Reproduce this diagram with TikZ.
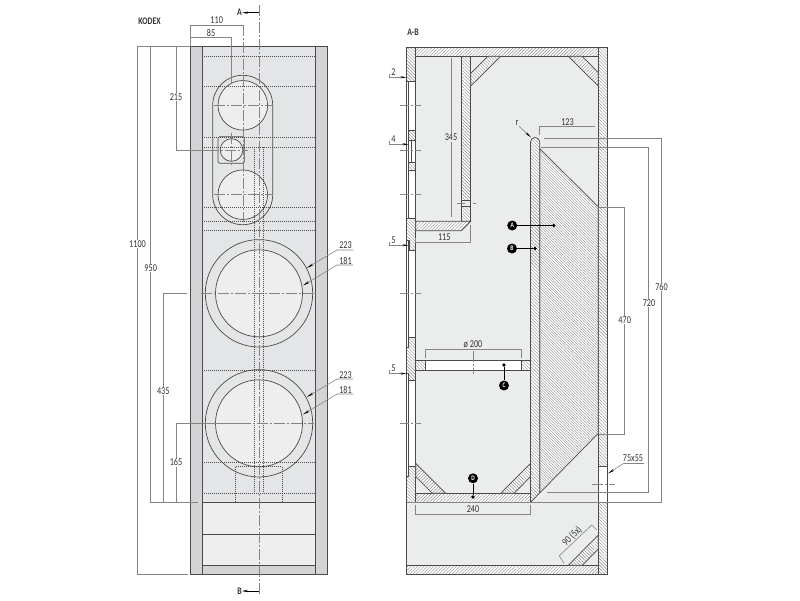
\documentclass[tikz,border=0pt]{standalone}
\usepackage{fontspec}
\setmainfont[FakeStretch=0.78]{Carlito}
\usetikzlibrary{patterns.meta, arrows.meta, calc}
\definecolor{ink}{HTML}{4A4A4A}
\definecolor{dimgray}{HTML}{858585}
\definecolor{hatchgray}{HTML}{858585}
\definecolor{strip}{HTML}{D3D4D6}
\definecolor{panel}{HTML}{E4E5E6}
\definecolor{cone}{HTML}{EEEEEF}
\definecolor{cavity}{HTML}{EBECEC}
\begin{document}
\begin{tikzpicture}[x=1pt, y=-1pt, font=\fontsize{10.5}{11}\selectfont, text=black!80,
    outline/.style={draw=ink, line width=0.7pt},
    dottedline/.style={draw=ink, line width=0.6pt, dash pattern=on 0.9pt off 1.1pt},
    centerline/.style={draw=dimgray, line width=0.5pt, dash pattern=on 11pt off 2pt on 2pt off 2pt},
    dimline/.style={draw=dimgray, line width=0.6pt},
    dimlabel/.style={fill=white, inner sep=0.8pt},
    plainlabel/.style={inner sep=0.5pt},
    titlelabel/.style={inner sep=0pt, font=\fontsize{10}{11}\selectfont\bfseries},
    leader/.style={dimline, -{Stealth[length=7pt, width=2.2pt, black]}},
    cutarrow/.style={draw=black, line width=0.5pt, -{Stealth[length=6pt, width=2.2pt]}},
    tagnode/.style={circle, fill=black, text=white, inner sep=0pt, minimum size=10pt, font=\fontsize{7}{7}\selectfont\bfseries},
    tagdot/.style={circle, fill=black, inner sep=0pt, minimum size=3.6pt},
    hatchup/.style={outline, preaction={fill=white}, pattern={Lines[angle=45, distance=2.3pt, line width=0.4pt]}, pattern color=hatchgray},
    hatchdown/.style={outline, preaction={fill=white}, pattern={Lines[angle=-45, distance=2.3pt, line width=0.4pt]}, pattern color=hatchgray},
    hatchfine/.style={outline, preaction={fill=white}, pattern={Lines[angle=-45, distance=1.9pt, line width=0.35pt]}, pattern color=hatchgray}]
  \useasboundingbox[fill=white] (0,0) rectangle (800,600);

  \fill[strip] (190.5,46.7) rectangle (327.5,574.3);
  \fill[panel] (202.3,46.7) rectangle (315.3,565.3);
  \fill[cone] (202.3,502) rectangle (315.3,565.3);
  \draw[outline, rounded corners=29.9pt] (212.7,75.3) rectangle (272.7,224.7);
  \foreach \cy in {105.3, 194.7}
    \draw[outline, fill=cone] (242.8,\cy) circle[radius=24.8pt];
  \draw[outline, rounded corners=1.5pt] (218,136.7) rectangle (244.3,163.3);
  \draw[outline, fill=cone] (231.5,150) circle[radius=11.3pt];
  \foreach \cy in {293.3, 423.3} {
    \draw[outline] (259,\cy) circle[radius=53.7pt];
    \draw[outline, fill=cone] (259,\cy) circle[radius=43.5pt];
  }
  \foreach \ly in {56, 86.3, 137.7, 147.3, 207.3, 221.3, 230.3, 370, 462.7, 493.3}
    \draw[dottedline] (202.3,\ly) -- (315.3,\ly);
  \foreach \lx in {254.7, 263.3}
    \draw[dottedline] (\lx,147.3) -- (\lx,493.3);
  \draw[dottedline] (235.7,502) |- (282,466.7) -- (282,502);
  \foreach \ly in {502, 534.7, 565.3}
    \draw[outline] (202.3,\ly) -- (315.3,\ly);
  \draw[outline] (190.5,46.7) rectangle (327.5,574.3);
  \draw[outline] (202.3,46.7) -- (202.3,574.3) (315.3,46.7) -- (315.3,574.3);

  \draw[centerline] (259,5) -- (259,596);
  \draw[centerline] (242.8,25) -- (242.8,222);
  \draw[centerline] (231.5,133) -- (231.5,167);
  \foreach \cy in {105.3, 194.7}
    \draw[centerline] (214,\cy) -- (272,\cy);
  \draw[centerline] (208,150) -- (248,150);
  \draw[centerline] (200.7,293.3) -- (314,293.3);
  \draw[centerline] (240,423.3) -- (314,423.3);

  \node[titlelabel] (kodex) at (149.5,21) {KODEX};
  \node[titlelabel] (cutA) at (239.5,12.7) {A};
  \node[titlelabel] (cutB) at (239.5,591) {B};
  \coordinate (axisA) at (259,12.7);
  \coordinate (axisB) at (259,591);
  \draw[cutarrow] (axisA) -- (cutA.east);
  \draw[cutarrow] (axisB) -- (cutB.east);

  \draw[dimline] (190,46.7) -| (137.3,574.3) -- (188,574.3);
  \draw[dimline] (150.7,46.7) |- (198,502);
  \draw[dimline] (187,293.3) -| (163.3,502);
  \draw[dimline] (176,502) |- (240,423.3);
  \draw[dimline] (176,46.7) |- (208,150);
  \draw[dimline] (190.7,46.7) |- (242.8,25);
  \draw[dimline] (190.7,46.7) |- (231.5,37.3) -- (231.5,84);
  \node[dimlabel] (h1100) at (137.5,244) {1100};
  \node[dimlabel] (h950) at (150.7,268) {950};
  \node[dimlabel] (h435) at (163.3,391) {435};
  \node[dimlabel] (h165) at (176,462.3) {165};
  \node[dimlabel] (h215) at (176,97) {215};
  \node[plainlabel] (w110) at (216.7,20.5) {110};
  \node[plainlabel] (w85) at (211,32.5) {85};

  \foreach \ty/\ny/\tag in {250/245.5/a, 379/374.7/b} {
    \coordinate (bendo\tag) at (337,\ty);
    \coordinate (endo\tag) at (353,\ty);
    \coordinate (tipo\tag) at (306.8,\ty+18);
    \draw[leader] (endo\tag) -- (bendo\tag) -- (tipo\tag);
    \node[plainlabel] (outer\tag) at (345.5,\ny) {223};
  }
  \foreach \ty/\ny/\tag in {265/260.7/a, 394/389.7/b} {
    \coordinate (bendi\tag) at (337,\ty);
    \coordinate (endi\tag) at (353,\ty);
    \coordinate (tipi\tag) at (303,\ty+20.5);
    \draw[leader] (endi\tag) -- (bendi\tag) -- (tipi\tag);
    \node[plainlabel] (inner\tag) at (345.5,\ny) {181};
  }

  \fill[cavity] (415.7,56.3) rectangle (598.3,502.3);
  \fill[cavity] (406.5,502.3) rectangle (598.3,565.3);
  \draw[outline] (406.5,502.3) -- (406.5,574.3);
  \draw[outline] (406.5,81) -- (406.5,476.7) (408.8,81) -- (408.8,218.3) (408.8,240) -- (408.8,476.7);
  \draw[outline] (415.7,47.3) -- (415.7,502.3);
  \draw[outline] (411,140) -- (411,162.3);
  \draw[outline] (598.3,466.7) -- (598.3,502.3) (607.7,466.7) -- (607.7,502.3);

  \draw[hatchup] (415.7,47.3) rectangle (598.3,56.3);
  \draw[hatchup] (406.5,565.3) rectangle (598.3,574.3);
  \draw[hatchdown] (406.5,47.3) rectangle (415.7,81.3);
  \draw[hatchdown] (598.3,47.3) rectangle (607.7,466.7);
  \draw[hatchdown] (598.3,502.3) rectangle (607.7,574.3);
  \draw[hatchdown] (408.8,130) rectangle (415.7,140);
  \draw[hatchdown] (408.8,162.3) rectangle (415.7,170.3);
  \draw[hatchdown] (406.5,218.3) -- (415.7,218.3) -- (415.7,250) -- (409,250) -- (409,240) -- (406.5,240) -- cycle;
  \draw[hatchdown] (408.8,337.3) -- (415.7,337.3) -- (415.7,380) -- (408.8,380) -- (408.8,373) -- (406.5,373) -- (406.5,347.3) -- (408.8,347.3) -- cycle;
  \draw[hatchdown] (408.8,466) -- (415.7,466) -- (415.7,502.3) -- (406.5,502.3) -- (406.5,476.7) -- (408.8,476.7) -- cycle;

  \draw[hatchdown] (461.3,56.3) rectangle (470.7,221.3);
  \draw[outline, fill=cavity] (461.3,200) rectangle (470.7,206.7);
  \draw[hatchup] (415.7,221.3) -- (470.7,221.3) -- (461.5,230.7) -- (415.7,230.7) -- cycle;
  \draw[hatchup] (415.7,493.3) rectangle (530.5,502.3);
  \draw[hatchdown] (415.7,360.7) rectangle (425.7,370.3);
  \draw[hatchdown] (521,360.7) rectangle (530.5,370.3);
  \draw[outline] (425.7,360.7) -- (521,360.7) (425.7,370.3) -- (521,370.3);
  \fill[white] (426,361.1) rectangle (520.7,369.9);

  \draw[hatchdown] (470.7,73.3) -- (487.7,56.3) -- (500.7,56.3) -- (470.7,86) -- cycle;
  \draw[hatchup] (568.3,56.3) -- (582.3,56.3) -- (598.3,72.7) -- (598.3,86) -- cycle;
  \draw[hatchup] (415.7,463.3) -- (445.7,493.3) -- (432.3,493.3) -- (415.7,476.7) -- cycle;
  \draw[hatchdown] (530.5,463.3) -- (500.7,493.3) -- (514,493.3) -- (530.5,476.7) -- cycle;
  \draw[hatchdown] (598.3,535) -- (568.3,565.3) -- (582.3,565.3) -- (598.3,549) -- cycle;

  \draw[hatchfine] (539.7,148.5) -- (598.3,207) -- (598.3,433.3) -- (539.7,493) -- cycle;
  \draw[hatchdown] (530.5,502.3) -- (530.5,142) arc[start angle=180, end angle=0, radius=4.6pt] -- (539.7,493) -- cycle;

  \node[titlelabel] (sectionAB) at (413,32.5) {A-B};
  \foreach \tag/\lx/\ly/\val/\tipx in {a/393.5/72/2/406.5, b/393.5/139/4/408.5, c/393.5/240/5/408.5, d/393.5/368.3/5/406.5} {
    \node[plainlabel] (thick\tag) at (\lx,\ly) {\val};
    \coordinate (tick\tag) at (389.5,\ly+1.5);
    \coordinate (bend\tag) at (389.5,\ly+5.3);
    \coordinate (tip\tag) at (\tipx,\ly+5.3);
    \draw[draw=dimgray, line width=0.6pt, -{Stealth[length=6pt, width=2.2pt, black]}] (tick\tag) -- (bend\tag) -- (tip\tag);
  }
  \foreach \ly in {105.3, 150, 194.7, 293.3, 423.3}
    \draw[centerline, dash pattern=on 9pt off 2pt on 2pt off 2pt on 6pt off 10pt] (400,\ly) -- (422,\ly);
  \draw[centerline, dash pattern=on 8pt off 8pt on 5pt off 10pt] (457,203.3) -- (476,203.3);
  \draw[centerline] (473,351) -- (473,374);
  \draw[centerline] (592,484.3) -- (615,484.3);

  \draw[dimline] (451.3,57.7) -- (451.3,217.3);
  \node[dimlabel, fill=cavity] (v345) at (451,137.3) {345};
  \draw[dimline] (415.7,238) |- (470.7,242.3) -- (470.7,225);
  \node[plainlabel] (w115) at (444.3,237.3) {115};
  \draw[dimline] (425.5,358) |- (521,349.3) -- (521,358);
  \node[plainlabel] (dia200) at (473,344) {ø 200};
  \draw[dimline] (415.7,505) |- (530.5,514.7) -- (530.5,505);
  \node[plainlabel] (w240) at (473,509.5) {240};
  \draw[dimline] (539.7,135) |- (595,126.7);
  \node[plainlabel] (w123) at (567.5,122) {123};
  \node[plainlabel] (radius) at (517,123) {r};
  \coordinate (radiustip) at (531,137.5);
  \draw[leader] (radius.south east) -- (radiustip);

  \draw[dimline] (544,138) -| (661.3,502.3) -- (536,502.3);
  \draw[dimline] (541,147.7) -| (648.7,492.7) -- (546.7,492.7);
  \draw[dimline] (599,207.3) -| (624.3,434.3) -- (599,434.3);
  \draw[dimline] (406.5,502.3) -- (539.7,502.3);
  \node[dimlabel] (v760) at (661.5,287) {760};
  \node[dimlabel] (v720) at (649,303) {720};
  \node[dimlabel] (v470) at (624.7,320) {470};
  \node[plainlabel] (w75x55) at (633,458.5) {75x55};
  \coordinate (ventbend) at (623.5,463.5);
  \coordinate (ventend) at (644,463.5);
  \coordinate (venttip) at (608,473.5);
  \draw[leader] (ventend) -- (ventbend) -- (venttip);
  \node[plainlabel, rotate=45] (w90) at (572,536.5) {90 (5x)};
  \draw[dimline] (564,563.3) -- (559.3,555.7) -- (591.7,525) -- (596.7,530);

  \node[tagnode] (tagA) at (512.2,225.5) {A};
  \node[tagdot] (dotA) at (553.7,225.5) {};
  \node[tagnode] (tagB) at (512,248.5) {B};
  \node[tagdot] (dotB) at (535,248.5) {};
  \node[tagnode] (tagC) at (504,385.5) {C};
  \node[tagdot] (dotC) at (504,365) {};
  \node[tagnode] (tagD) at (473,478.3) {D};
  \node[tagdot] (dotD) at (473,497) {};
  \foreach \letter in {A, B, C, D}
    \draw[draw=black, line width=0.6pt] (tag\letter) -- (dot\letter);
\end{tikzpicture}
\end{document}
